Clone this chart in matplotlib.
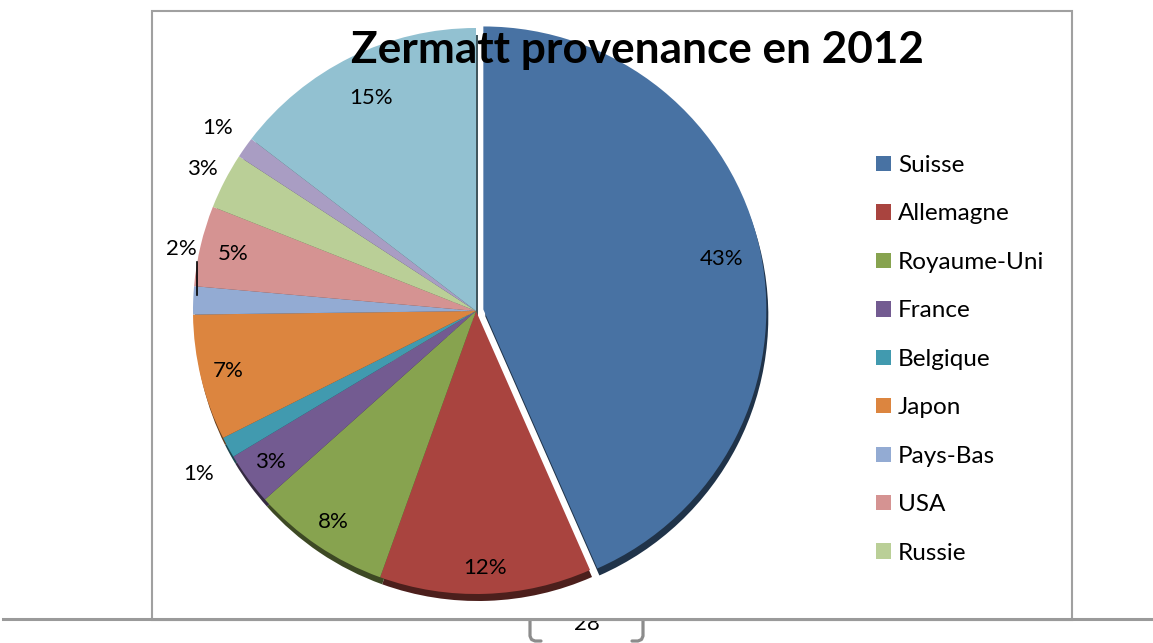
import matplotlib
matplotlib.use("Agg")
import matplotlib.pyplot as plt
import matplotlib.patches as mpatches
import numpy as np

# Provenance des hôtes à Zermatt en 2012 (parts en %)
pays = ['Suisse', 'Allemagne', 'Royaume-Uni', 'France', 'Belgique', 'Japon',
        'Pays-Bas', 'USA', 'Russie', 'Italie', 'Autres']
parts = [43.4, 12.1, 7.9, 3.0, 1.2, 7.2, 1.6, 4.6, 3.2, 1.2, 14.6]
couleurs = ['#4872a3', '#a9443f', '#87a34f', '#735b91', '#419aaf', '#dc853f',
            '#93abd3', '#d59392', '#bacf97', '#a99dc3', '#92c1d1']
n_legende = 9  # la légende est coupée après "Russie"

W, H = 1153, 643
plt.rcParams['font.family'] = ['Lato', 'DejaVu Sans']

fig = plt.figure(figsize=(W / 100, H / 100), dpi=100)
ax = fig.add_axes([0, 0, 1, 1])

# page : numéro, crochet, trait
ax.text(587, 13, '28', ha='center', va='baseline', fontsize=16, zorder=1)
gris = '#8c8c8c'
ax.plot([530, 530, 531.5, 535, 541], [24, 7, 3.5, 2, 2], color=gris, lw=2.3, zorder=1,
        solid_capstyle='round')
ax.plot([643, 643, 641.5, 638, 632], [24, 7, 3.5, 2, 2], color=gris, lw=2.3, zorder=1,
        solid_capstyle='round')
ax.add_patch(mpatches.Rectangle((152, 23), 920, 609, facecolor='white',
                                edgecolor='#a0a0a0', lw=1.5, zorder=2))
ax.plot([3, W], [24, 24], color='#9a9a9a', lw=2.2, zorder=2.5)

# camembert (explode en unités de données : ici des pixels)
cx, cy, R = 476, 332, 283
explode = [7.5] + [0] * (len(parts) - 1)
wedges, _ = ax.pie(parts, colors=couleurs, startangle=90, counterclock=False,
                   radius=R, center=(cx, cy), explode=explode,
                   wedgeprops=dict(linewidth=0, zorder=4), frame=True)
ax.set_xlim(0, W)
ax.set_ylim(0, H)
ax.set_aspect('equal')
ax.axis('off')

# ombre façon Excel
for w in wedges:
    r, g, b, _a = w.get_facecolor()
    ombre = mpatches.Wedge((w.center[0] + 2, w.center[1] - 7), w.r, w.theta1, w.theta2,
                           facecolor=(r * 0.45, g * 0.45, b * 0.45), lw=0, zorder=3)
    ax.add_patch(ombre)

# étiquettes
dist = [0.86, 0.91, 0.9, 0.9, 1.12, 0.9, 1.06, 0.88, 1.09, 1.12, 0.84]
for i, w in enumerate(wedges):
    ang = np.deg2rad((w.theta1 + w.theta2) / 2)
    x = w.center[0] + dist[i] * w.r * np.cos(ang)
    y = w.center[1] + dist[i] * w.r * np.sin(ang)
    if pays[i] == 'Pays-Bas':
        ex, ey = cx + w.r * np.cos(ang), cy + w.r * np.sin(ang)
        ax.plot([ex + 4, ex + 4], [ey + 5, ey + 38], color='black', lw=1.2, zorder=6)
        y = ey + 51
        x = ex - 12
    elif pays[i] == 'Belgique':
        y -= 10
    ax.text(x, y, '%.0f%%' % parts[i], ha='center', va='center', fontsize=16, zorder=6)

ax.text(637, 593, 'Zermatt provenance en 2012', ha='center', va='center',
        fontsize=31.8, fontweight='bold', zorder=7)

ax.legend(wedges[:n_legende], pays[:n_legende], loc='upper left',
          bbox_to_anchor=(876 / W, 488 / H), frameon=False, fontsize=17.5,
          handlelength=0.6, handleheight=0.6, handletextpad=0.3,
          labelspacing=1.13, borderpad=0, borderaxespad=0)

fig.savefig('out.png', dpi=100)
